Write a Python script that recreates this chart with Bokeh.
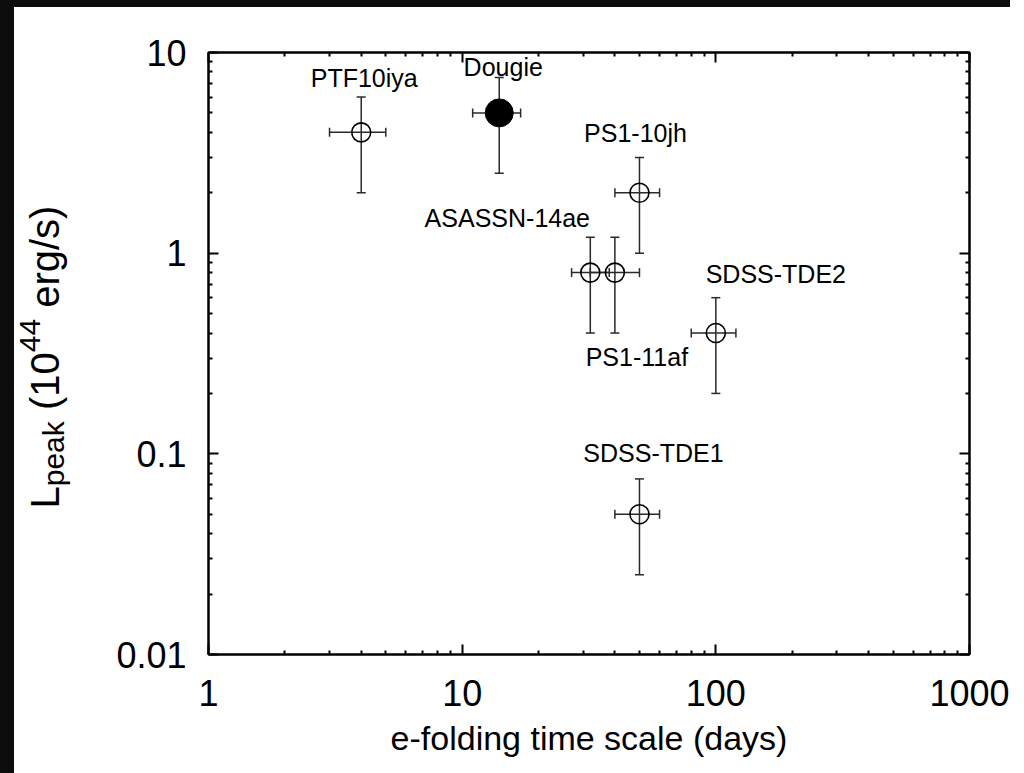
import math
from bokeh.plotting import figure
from bokeh.models import (LogAxis, FixedTicker, CustomJSTickFormatter, Whisker,
                          TeeHead, ColumnDataSource, Range1d, Div)
from bokeh.layouts import column, row
from bokeh.embed import file_html
from bokeh.resources import INLINE
from bokeh.core.properties import value

# ---------------- data ----------------
names = ["PTF10iya", "Dougie", "PS1-10jh", "ASASSN-14ae", "PS1-11af", "SDSS-TDE2", "SDSS-TDE1"]
tau = [4, 14, 50, 32, 40, 100, 50]
tau_lo = [3, 11, 40, 27, 32, 80, 40]
tau_hi = [5, 17, 60, 38, 50, 120, 60]
lpeak = [4, 5, 2, 0.8, 0.8, 0.4, 0.05]
lpeak_lo = [2, 2.5, 1, 0.4, 0.4, 0.2, 0.025]
lpeak_hi = [6, 7.5, 3, 1.2, 1.2, 0.6, 0.075]
filled = [False, True, False, False, False, False, False]

x_major = [1, 10, 100, 1000]
y_major = [0.01, 0.1, 1, 10]
x_title = "e-folding time scale (days)"
y_title_parts = ["L", "peak", "(10", "44", "erg/s)"]
y_title_kind = ["main", "sub", "main", "sup", "main"]
y_title_space_before = [False, False, True, False, True]

# ---------------- styles ----------------
FONT = "Liberation Sans"
DARK = "#0c0c0c"
H = 766
label_dx = [3, 4, -4, -83, 22, 60, 14]      # pixel offsets of name labels
label_dy = [54, 46, 60, 55, -84, 59, 61]    # (positive = up)

def minors(majors):
    out = []
    for m in majors[:-1]:
        out += [m * k for k in range(2, 10)]
    return out

p = figure(width=910, height=H, x_axis_type="log", y_axis_type="log",
           x_range=Range1d(1, 1000), y_range=Range1d(0.01, 10),
           output_backend="svg", toolbar_location=None,
           min_border_left=108, min_border_right=41,
           min_border_top=45, min_border_bottom=H - 45 - 602)
p.margin = 0
p.xgrid.visible = False
p.ygrid.visible = False
p.outline_line_color = "black"
p.outline_line_width = 2
p.background_fill_color = "white"
p.border_fill_color = "white"

fmt_js = "return tick.toString();"
blank_js = "return '';"

def style_axis(ax, majors, show):
    ax.ticker = FixedTicker(ticks=majors, minor_ticks=minors(majors))
    ax.formatter = CustomJSTickFormatter(code=fmt_js if show else blank_js)
    ax.major_tick_in = 10
    ax.major_tick_out = 0
    ax.minor_tick_in = 4
    ax.minor_tick_out = 0
    ax.axis_line_width = 2
    ax.axis_line_color = "black"
    ax.major_tick_line_width = 2
    ax.minor_tick_line_width = 2
    ax.major_tick_line_color = "black"
    ax.minor_tick_line_color = "black"
    ax.major_label_text_font = FONT
    ax.major_label_text_font_size = "36px"
    ax.major_label_text_color = "black"

style_axis(p.xaxis[0], x_major, True)
style_axis(p.yaxis[0], y_major, True)
p.xaxis[0].major_label_standoff = 25
p.yaxis[0].major_label_standoff = 22
p.xaxis[0].axis_label = x_title
p.xaxis[0].axis_label_text_font = FONT
p.xaxis[0].axis_label_text_font_size = "34px"
p.xaxis[0].axis_label_text_font_style = "normal"
p.xaxis[0].axis_label_text_color = "black"
p.xaxis[0].axis_label_standoff = 10

top = LogAxis()
style_axis(top, x_major, False)
p.add_layout(top, "above")
right = LogAxis()
style_axis(right, y_major, False)
p.add_layout(right, "right")

# ---------------- error bars ----------------
src = ColumnDataSource(dict(name=names, x=tau, xlo=tau_lo, xhi=tau_hi,
                            y=lpeak, ylo=lpeak_lo, yhi=lpeak_hi,
                            dx=label_dx, dy=[-d for d in label_dy]))
BAR = "#2a2a2a"
def tee():
    return TeeHead(size=9, line_color=BAR, line_width=1.5)
wy = Whisker(source=src, base="x", lower="ylo", upper="yhi", dimension="height",
             line_color=BAR, line_width=1.5, upper_head=tee(), lower_head=tee())
wx = Whisker(source=src, base="y", lower="xlo", upper="xhi", dimension="width",
             line_color=BAR, line_width=1.5, upper_head=tee(), lower_head=tee())
p.add_layout(wy)
p.add_layout(wx)

open_src = ColumnDataSource(dict(
    x=[t for t, f in zip(tau, filled) if not f],
    y=[l for l, f in zip(lpeak, filled) if not f]))
fill_src = ColumnDataSource(dict(
    x=[t for t, f in zip(tau, filled) if f],
    y=[l for l, f in zip(lpeak, filled) if f]))
p.scatter(x="x", y="y", source=open_src, marker="circle", size=19,
          fill_color=None, line_color="black", line_width=1.6)
p.scatter(x="x", y="y", source=fill_src, marker="circle", size=28,
          fill_color="black", line_color="black", line_width=1)

# ---------------- name labels ----------------
p.text(x="x", y="y", text="name", source=src, x_offset="dx", y_offset="dy",
       text_font=value(FONT), text_font_size="25px", text_color="black",
       text_align="center", text_baseline="middle")

# ---------------- y title (separate strip, pixel offsets from its centre) ----------------
ADV = {"L": 556, "p": 556, "e": 556, "a": 556, "k": 500, " ": 278, "(": 333,
       "1": 556, "0": 556, "4": 556, "r": 333, "g": 556, "/": 278, "s": 500, ")": 333}
def width(txt, size):
    return sum(ADV.get(c, 556) for c in txt) * size / 1000.0

SIZES = {"main": 40, "sub": 30, "sup": 30}
SHIFT = {"main": -13, "sub": -4, "sup": -28}
START = 155   # pixels below the anchor where the title begins

ylab = figure(width=86, height=H, x_range=Range1d(0, 1), y_range=Range1d(0, 1),
              output_backend="svg", toolbar_location=None,
              min_border_left=0, min_border_right=0, min_border_top=0, min_border_bottom=0,
              x_axis_location=None, y_axis_location=None)
ylab.margin = 0
ylab.xgrid.visible = False
ylab.ygrid.visible = False
ylab.outline_line_color = None
ylab.background_fill_color = "white"
ylab.border_fill_color = "white"

run = 0.0
for txt, kind, sp in zip(y_title_parts, y_title_kind, y_title_space_before):
    size = SIZES[kind]
    if sp:
        run += width(" ", size)
    ylab.text(x=[0.5], y=[0.5], text=[txt], x_offset=SHIFT[kind], y_offset=START - run,
              angle=math.pi / 2, text_font=value(FONT), text_font_size=f"{size}px",
              text_color="black", text_align="left", text_baseline="alphabetic")
    run += width(txt, size)

top_strip = Div(width=1010, height=7, margin=0, styles={"background-color": DARK})
left_strip = Div(width=14, height=H, margin=0, styles={"background-color": DARK})
page = column(top_strip, row(left_strip, ylab, p, spacing=0, margin=0), spacing=0, margin=0)
open("out.html", "w").write(file_html(page, INLINE))
